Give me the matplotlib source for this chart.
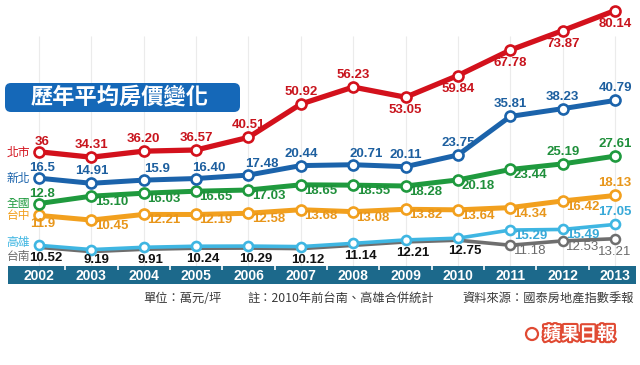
import matplotlib
matplotlib.use('Agg')
import matplotlib.pyplot as plt
import matplotlib.transforms as mtransforms
from matplotlib.patches import FancyBboxPatch, Rectangle, Circle
import matplotlib.patheffects as pe

# Average house price per ping (10k NTD), values as printed on the chart
years = list(range(2002, 2014))
taipei = ['36', '34.31', '36.20', '36.57', '40.51', '50.92', '56.23', '53.05', '59.84', '67.78', '73.87', '80.14']
newTaipei = ['16.5', '14.91', '15.9', '16.40', '17.48', '20.44', '20.71', '20.11', '23.75', '35.81', '38.23', '40.79']
national = ['12.8', '15.10', '16.03', '16.65', '17.03', '18.65', '18.55', '18.28', '20.18', '23.44', '25.19', '27.61']
taichung = ['11.9', '10.45', '12.21', '12.19', '12.58', '13.68', '13.08', '13.82', '13.64', '14.34', '16.42', '18.13']
# Before 2011 Kaohsiung and Tainan are counted together
kaohsiung = ['10.52', '9.19', '9.91', '10.24', '10.29', '10.12', '11.14', '12.21', '12.75', '15.29', '15.49', '17.05']
tainan = ['10.52', '9.19', '9.91', '10.24', '10.29', '10.12', '11.14', '12.21', '12.75', '11.18', '12.53', '13.21']

title = '歷年平均房價變化'
notes = ['單位：萬元/坪', '註：2010年前台南、高雄合併統計', '資料來源：國泰房地產指數季報']

W, H = 640, 365
fig = plt.figure(figsize=(W/100, H/100), dpi=100)
ax = fig.add_axes([0, 0, 1, 1])
ax.set_xlim(2001.255, 2013.477)
ax.set_ylim(-26.875, 87.1875)
ax.axis('off')

cjk = ['Noto Sans CJK TC', 'DejaVu Sans']
num = ['Liberation Sans', 'DejaVu Sans']
pix = mtransforms.IdentityTransform()

def fy(py):
    # pixel row from top -> figure fraction
    return 1 - py/H

xform = ax.get_xaxis_transform()

# light vertical guides
ax.vlines(years, fy(266), fy(36), transform=xform, color='#ebebeb', lw=0.8, zorder=0)

# label placements (pixel offsets)
place = {'a': (0, 12), 'a0': (3, 10), 'ar': (13, 11), 'b': (0, -13), 'b0': (4, -9),
         'br': (20, -6), 'bk': (7, -11), 'bk2': (5, -8)}

series = [
    # values, colour, label colour, line width, vertical shift (px), placements, name offset
    (tainan, '#6e6e6e', '#6a6a6a', 2.6, -2, ['bk', 'bk2'] + ['bk']*7 + ['br', 'br', 'b'], -9),
    (kaohsiung, '#3fb6e2', '#38a9d8', 2.6, 0, [None]*9 + ['br', 'br', 'a'], 3),
    (taichung, '#f2a01e', '#e8961a', 3.6, 25.5, ['b0'] + ['br']*10 + ['a'], 0),
    (national, '#1f9a3e', '#1f8f3b', 3.6, 34.5, ['a0'] + ['br']*9 + ['a', 'a'], 0),
    (newTaipei, '#1b63ab', '#1d5f9f', 3.6, 48, ['a0', 'a', 'ar', 'ar', 'ar', 'a', 'ar', 'a', 'a', 'a', 'a', 'a'], 0),
    (taipei, '#d3111c', '#c8141d', 3.8, 12, ['a0'] + ['a']*6 + ['b']*5, 0),
]
seriesNames = ['台南', '高雄', '台中', '全國', '新北', '北市']

for (vals, col, lcol, lw, shift, pl, ndy), nm in zip(series, seriesNames):
    tr = mtransforms.offset_copy(ax.transData, fig=fig, x=0, y=shift, units='dots')
    y = [float(v) for v in vals]
    if nm == '台南':
        ax.plot(years, y, color=col, lw=lw, transform=tr, zorder=2,
                marker='o', markevery=[9, 10, 11], ms=6.5, mfc='white', mec=col, mew=1.8)
    else:
        ms = 6.5 if nm == '高雄' else 7.2
        ax.plot(years, y, color=col, lw=lw, transform=tr, zorder=3,
                marker='o', ms=ms, mfc='white', mec=col, mew=1.9,
                solid_capstyle='round')
    for yr, v, s, p in zip(years, y, vals, pl):
        if p is None:
            continue
        c = lcol
        weight = 'bold'
        if p.startswith('bk'):
            c = '#111111'
        elif nm == '台南':
            weight = 'normal'
        ax.annotate(s, (yr, v), xycoords=tr, xytext=place[p], textcoords='offset pixels',
                    ha='center', va='center', fontsize=9.5, color=c, weight=weight,
                    family=num, zorder=5)
    # series name at the left
    ax.annotate(nm, (years[0], y[0]), xycoords=tr, xytext=(-9, ndy), textcoords='offset pixels',
                ha='right', va='center', fontsize=8.5, color=col, family=cjk, zorder=5)

# year band
ax.add_patch(Rectangle((8/W, fy(284)), (636-8)/W, (284-266)/H, transform=fig.transFigure,
                       facecolor='#1c698b', edgecolor='none', zorder=1, clip_on=False))
ax.vlines([yr + 0.5 for yr in years[:-1]], fy(270), fy(266), transform=xform,
          color='white', lw=1.2, zorder=4)
for yr in years:
    ax.text(yr, fy(275.5), str(yr), transform=xform, ha='center', va='center',
            color='white', weight='bold', fontsize=10, family=num, zorder=5)

# title box
ax.add_patch(FancyBboxPatch((5, H-112), 235, 29, boxstyle='round,pad=0,rounding_size=6',
                            transform=pix, facecolor='#1568b8', edgecolor='none',
                            zorder=1, clip_on=False))
ax.text(120/W, fy(97.5), title, transform=fig.transFigure, ha='center', va='center',
        color='white', fontsize=16, weight='black', family=cjk, zorder=5)

# notes
for txt, px in zip(notes, [143, 247, 462]):
    ax.text(px/W, fy(299), txt, transform=fig.transFigure, ha='left', va='center',
            fontsize=8.8, color='#3a3a3a', family=cjk)

# paper logo
ax.add_patch(Circle((532, H-334), 6, transform=pix, facecolor='white',
                    edgecolor='#e04a33', lw=1.6, clip_on=False))
ax.text(543/W, fy(334), '蘋果日報', transform=fig.transFigure, ha='left', va='center',
        fontsize=13, weight='bold', color='white', family=cjk,
        path_effects=[pe.withStroke(linewidth=3, foreground='#e04a33')])

fig.savefig('out.png', dpi=100)
